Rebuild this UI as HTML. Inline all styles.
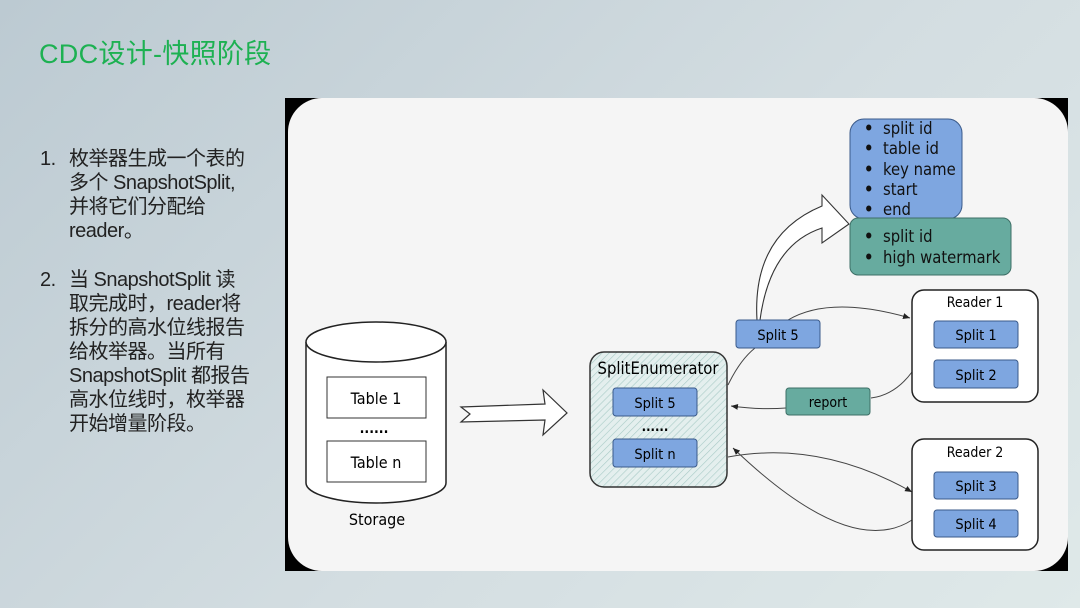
<!DOCTYPE html>
<html><head><meta charset="utf-8"><style>
html,body{margin:0;padding:0}
body{width:1080px;height:608px;overflow:hidden;position:relative;background:linear-gradient(135deg,#bccad2 0%,#d3dde1 55%,#dfe9e9 100%);font-family:"Liberation Sans","Noto Sans CJK SC",sans-serif}
.t{position:absolute;left:39px;top:32px;font-size:27px;color:#1db152;letter-spacing:0.3px}
.l{position:absolute;font-size:20px;color:#222;line-height:24px;letter-spacing:-0.5px}
</style></head><body>
<div class="t">CDC设计-快照阶段</div>
<div class="l" style="left:40px;top:147px">1.</div>
<div class="l" style="left:69px;top:147px">枚举器生成一个表的<br>多个 SnapshotSplit,<br>并将它们分配给<br>reader。</div>
<div class="l" style="left:40px;top:268px">2.</div>
<div class="l" style="left:69px;top:268px">当 SnapshotSplit 读<br>取完成时，reader将<br>拆分的高水位线报告<br>给枚举器。当所有<br>SnapshotSplit 都报告<br>高水位线时，枚举器<br>开始增量阶段。</div>
<svg style="position:absolute;left:0;top:0" width="1080" height="608" font-family="'DejaVu Sans Condensed','Liberation Sans Narrow',sans-serif">
<defs>
<pattern id="h" width="5" height="5" patternUnits="userSpaceOnUse" patternTransform="rotate(45)"><rect width="5" height="5" fill="#e4efee"/><line x1="0" y1="0" x2="0" y2="5" stroke="#a8cbc6" stroke-width="1.2"/></pattern>
<marker id="a" markerWidth="8" markerHeight="8" refX="7" refY="4" orient="auto"><path d="M0,1 L7,4 L0,7 z" fill="#222"/></marker>
</defs>
<rect x="285" y="98" width="783" height="473" fill="#000"/>
<rect x="288" y="98" width="780" height="473" rx="34" fill="#f5f5f5"/>
<path d="M306,342 L306,483 A70,20 0 0 0 446,483 L446,342" fill="#fff" stroke="#222" stroke-width="1.5"/>
<ellipse cx="376" cy="342" rx="70" ry="20" fill="#fff" stroke="#222" stroke-width="1.5"/>
<rect x="327" y="377" width="99" height="41" fill="#fff" stroke="#333"/>
<text x="376" y="404" font-size="16" text-anchor="middle">Table 1</text>
<text x="374" y="433" font-size="14" text-anchor="middle" font-weight="bold">......</text>
<rect x="327" y="441" width="99" height="41" fill="#fff" stroke="#333"/>
<text x="376" y="468" font-size="16" text-anchor="middle">Table n</text>
<text x="377" y="525" font-size="16" text-anchor="middle">Storage</text>
<path d="M461,407 L545,404 L543,390 L567,413 L543,435 L545,420 L461,422 L470,414 z" fill="#fff" stroke="#333" stroke-width="1.2"/>
<rect x="590" y="352" width="137" height="135" rx="14" fill="url(#h)" stroke="#333" stroke-width="1.5"/>
<text x="658" y="374" font-size="16.5" text-anchor="middle">SplitEnumerator</text>
<rect x="613" y="388" width="84" height="28" rx="3" fill="#7ea6e0" stroke="#3a5a8a"/>
<text x="655" y="408" font-size="14.5" text-anchor="middle">Split 5</text>
<text x="655" y="431" font-size="13" text-anchor="middle" font-weight="bold">......</text>
<rect x="613" y="439" width="84" height="28" rx="3" fill="#7ea6e0" stroke="#3a5a8a"/>
<text x="655" y="459" font-size="14.5" text-anchor="middle">Split n</text>
<path d="M728,385 Q740,360 755,348" fill="none" stroke="#444"/>
<path d="M788,320 Q830,295 910,318" fill="none" stroke="#444" marker-end="url(#a)"/>
<path d="M912,372 Q895,395 871,398" fill="none" stroke="#444"/>
<path d="M786,408 Q760,410 731,406" fill="none" stroke="#444" marker-end="url(#a)"/>
<path d="M728,457 Q820,440 912,492" fill="none" stroke="#444" marker-end="url(#a)"/>
<path d="M912,520 Q850,560 733,448" fill="none" stroke="#444" marker-end="url(#a)"/>
<path d="M757,320 Q752,235 822,206 L822,195 L849,224 L822,243 L822,228 Q770,245 760,320 z" fill="#fff" stroke="#333" stroke-width="1.1"/>
<rect x="736" y="320" width="84" height="28" rx="3" fill="#7ea6e0" stroke="#3a5a8a"/>
<text x="778" y="340" font-size="14.5" text-anchor="middle">Split 5</text>
<rect x="786" y="388" width="84" height="27" rx="3" fill="#67ab9f" stroke="#3d6f66"/>
<text x="828" y="407" font-size="14" text-anchor="middle">report</text>
<rect x="912" y="290" width="126" height="112" rx="12" fill="#fff" stroke="#222" stroke-width="1.5"/>
<text x="975" y="307" font-size="14" text-anchor="middle">Reader 1</text>
<rect x="934" y="321" width="84" height="27" rx="3" fill="#7ea6e0" stroke="#3a5a8a"/>
<text x="976" y="340" font-size="14.5" text-anchor="middle">Split 1</text>
<rect x="934" y="360" width="84" height="28" rx="3" fill="#7ea6e0" stroke="#3a5a8a"/>
<text x="976" y="380" font-size="14.5" text-anchor="middle">Split 2</text>
<rect x="912" y="439" width="126" height="111" rx="12" fill="#fff" stroke="#222" stroke-width="1.5"/>
<text x="975" y="457" font-size="14" text-anchor="middle">Reader 2</text>
<rect x="934" y="472" width="84" height="27" rx="3" fill="#7ea6e0" stroke="#3a5a8a"/>
<text x="976" y="491" font-size="14.5" text-anchor="middle">Split 3</text>
<rect x="934" y="510" width="84" height="27" rx="3" fill="#7ea6e0" stroke="#3a5a8a"/>
<text x="976" y="529" font-size="14.5" text-anchor="middle">Split 4</text>
<rect x="850" y="119" width="112" height="100" rx="14" fill="#7ea6e0" stroke="#3a5a8a"/>
<g font-size="16.5" fill="#111">
<text x="864" y="134" font-weight="bold">•</text><text x="883" y="134">split id</text>
<text x="864" y="154" font-weight="bold">•</text><text x="883" y="154">table id</text>
<text x="864" y="175" font-weight="bold">•</text><text x="883" y="175">key name</text>
<text x="864" y="195" font-weight="bold">•</text><text x="883" y="195">start</text>
<text x="864" y="215" font-weight="bold">•</text><text x="883" y="215">end</text>
</g>
<rect x="850" y="218" width="161" height="57" rx="8" fill="#67ab9f" stroke="#3d6f66"/>
<g font-size="16.5" fill="#111">
<text x="864" y="242" font-weight="bold">•</text><text x="883" y="242">split id</text>
<text x="864" y="263" font-weight="bold">•</text><text x="883" y="263">high watermark</text>
</g>
</svg>
</body></html>
